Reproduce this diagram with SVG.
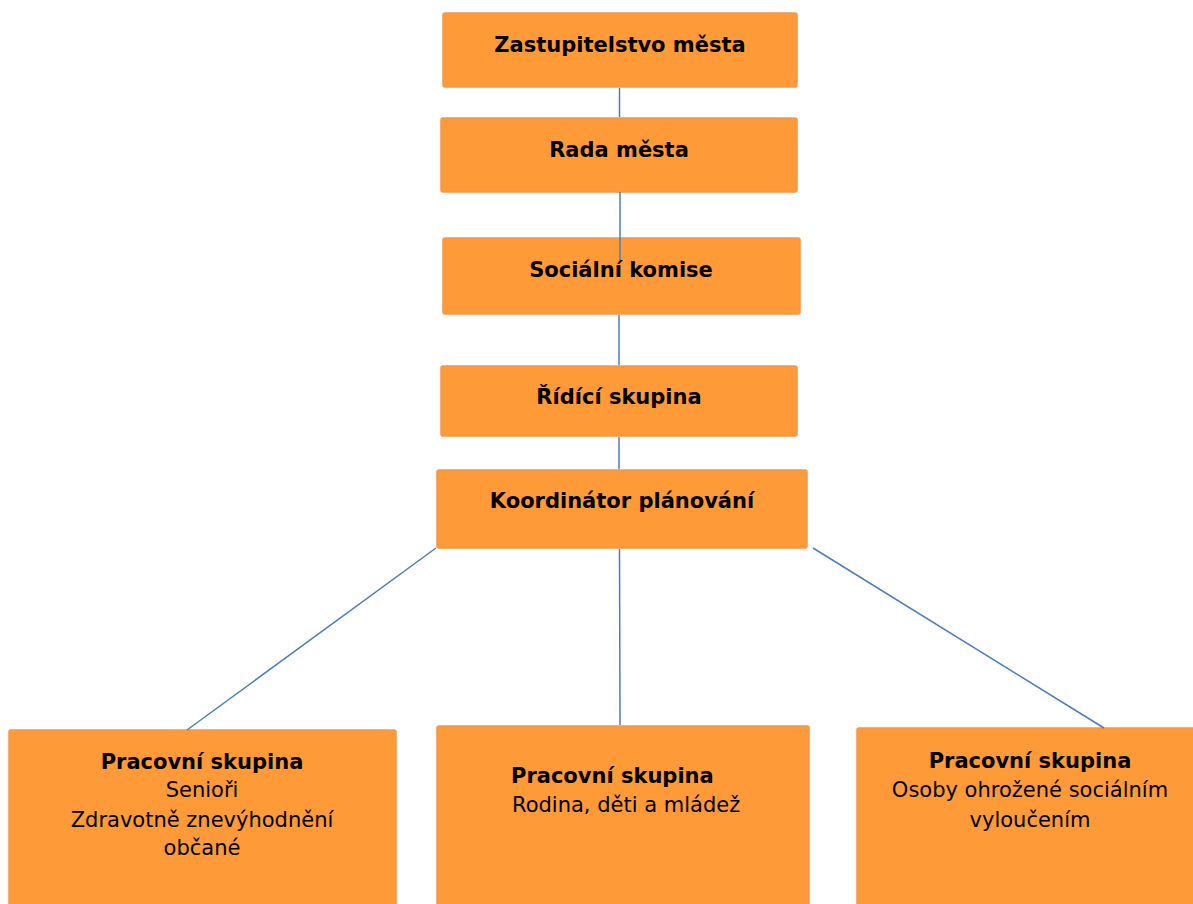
<svg xmlns="http://www.w3.org/2000/svg" width="1193" height="904" viewBox="0 0 1193 904">
<style>
.box{fill:#FF9A38;stroke:#F4954C;stroke-width:1.5}
.t{font-family:"DejaVu Sans",Verdana,sans-serif;font-size:21px;fill:#000;text-anchor:middle}
.b{font-weight:bold}
.l{text-anchor:start}
.c{stroke:#4A7EBB;stroke-width:1.5;fill:none}
</style>
<rect width="1193" height="904" fill="#fff"/>
<g id="zastupitelstvo">
<rect class="box" x="443" y="13" width="354" height="74" rx="2"/>
<text class="t b" x="620" y="52">Zastupitelstvo města</text>
</g>
<g id="rada">
<rect class="box" x="441" y="118" width="356" height="74" rx="2"/>
<text class="t b" x="619" y="157">Rada města</text>
</g>
<g id="komise">
<rect class="box" x="443" y="238" width="357" height="76" rx="2"/>
<text class="t b" x="621" y="277">Sociální komise</text>
</g>
<g id="ridici">
<rect class="box" x="441" y="366" width="356" height="70" rx="2"/>
<text class="t b" x="619" y="404">Řídící skupina</text>
</g>
<g id="koordinator">
<rect class="box" x="437" y="470" width="370" height="78" rx="2"/>
<text class="t b" x="622" y="508">Koordinátor plánování</text>
</g>
<g id="ps-senior">
<rect class="box" x="9" y="730" width="387" height="180" rx="2"/>
<text class="t b" x="202" y="769">Pracovní skupina</text>
<text class="t" x="202" y="797">Senioři</text>
<text class="t" x="202" y="827">Zdravotně znevýhodnění</text>
<text class="t" x="202" y="855">občané</text>
</g>
<g id="ps-rodina">
<rect class="box" x="437" y="726" width="372" height="184" rx="2"/>
<text class="t b l" x="511" y="783">Pracovní skupina</text>
<text class="t l" x="512" y="812">Rodina, děti a mládež</text>
</g>
<g id="ps-osoby">
<rect class="box" x="857" y="728" width="345" height="182" rx="2"/>
<text class="t b" x="1030" y="768">Pracovní skupina</text>
<text class="t" x="1030" y="797">Osoby ohrožené sociálním</text>
<text class="t" x="1030" y="827">vyloučením</text>
</g>
<g id="connectors">
<line class="c" x1="619.5" y1="88" x2="619.5" y2="117"/>
<line class="c" x1="620" y1="192" x2="620" y2="260"/>
<line class="c" x1="619" y1="315" x2="619" y2="365"/>
<line class="c" x1="619" y1="437" x2="619" y2="469"/>
<line class="c" x1="436" y1="548" x2="187" y2="730"/>
<line class="c" x1="619.5" y1="549" x2="620" y2="725"/>
<line class="c" x1="813" y1="548" x2="1104" y2="728"/>
</g>
</svg>
